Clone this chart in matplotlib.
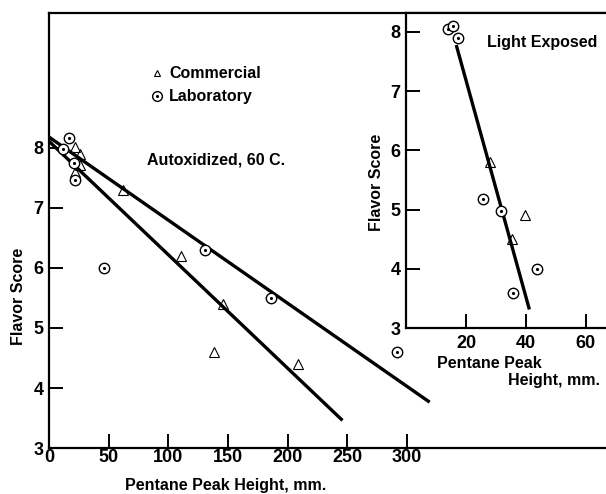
import matplotlib
matplotlib.use("Agg")
import matplotlib.pyplot as plt
from matplotlib.lines import Line2D
from matplotlib.legend_handler import HandlerTuple

plt.rcParams['font.family'] = ['Liberation Sans', 'DejaVu Sans']
plt.rcParams['font.weight'] = 'bold'

# autoxidized, 60 C
comm_x = [22, 26, 26, 22, 62, 111, 146, 138, 209]
comm_y = [8.02, 7.9, 7.72, 7.6, 7.3, 6.2, 5.4, 4.6, 4.4]
lab_x = [17, 12, 21, 22, 46, 131, 186, 292]
lab_y = [8.17, 7.98, 7.75, 7.47, 6.0, 6.3, 5.5, 4.6]
fit1_x = [0, 318]
fit1_y = [8.18, 3.78]
fit2_x = [0, 245]
fit2_y = [8.11, 3.48]

# light exposed
light_comm_x = [28, 35.4, 39.8]
light_comm_y = [5.8, 4.5, 4.91]
light_lab_x = [14.1, 15.8, 17.4, 25.8, 31.7, 43.8, 35.6]
light_lab_y = [8.05, 8.09, 7.89, 5.18, 4.98, 4.0, 3.59]
light_fit_x = [16.9, 41]
light_fit_y = [7.75, 3.34]

main_xticks = [0, 50, 100, 150, 200, 250, 300]
main_yticks = [3, 4, 5, 6, 7, 8]
inset_xticks = [20, 40, 60]
inset_yticks = [3, 4, 5, 6, 7, 8]

TXT = 11.5


def draw_points(ax, cx, cy, lx, ly):
	ax.plot(cx, cy, '^', ms=6.5, mfc='none', mec='black', mew=0.8, ls='none')
	ax.plot(lx, ly, 'o', ms=7.5, mfc='white', mec='black', mew=1.0, ls='none')
	ax.plot(lx, ly, '.', ms=2.5, color='black', ls='none')


def style_axes(ax):
	for s in ['left', 'bottom', 'top']:
		ax.spines[s].set_linewidth(1.6)
	ax.spines['right'].set_visible(False)
	ax.tick_params(direction='in', length=10, width=1.4, labelsize=13)
	ax.tick_params(axis='y', pad=4)


fig = plt.figure(figsize=(6.06, 4.94), dpi=100)

ax = fig.add_axes([0.081, 0.093, 0.919, 0.881])
ax.plot(fit1_x, fit1_y, '-', color='black', lw=2.4)
ax.plot(fit2_x, fit2_y, '-', color='black', lw=2.4)
draw_points(ax, comm_x, comm_y, lab_x, lab_y)
ax.set_xlim(0, 467)
ax.set_ylim(3, 10.25)
ax.set_xticks(main_xticks)
ax.set_yticks(main_yticks)
style_axes(ax)
ax.tick_params(axis='x', pad=1)

h_tri = Line2D([], [], marker='^', ms=5, mfc='none', mec='black', mew=0.8, ls='none')
h_circ = Line2D([], [], marker='o', ms=7, mfc='none', mec='black', mew=1.0, ls='none')
h_dot = Line2D([], [], marker='.', ms=2.5, color='black', ls='none')
ax.legend([h_tri, (h_circ, h_dot)], ['Commercial', 'Laboratory'],
	handler_map={tuple: HandlerTuple(ndivide=1)},
	loc='upper left', bbox_to_anchor=(0.249, 0.866), bbox_transform=fig.transFigure,
	frameon=False, fontsize=TXT, handlelength=0.8, handletextpad=0.35,
	labelspacing=0.5, borderpad=0, borderaxespad=0)

fig.text(0.243, 0.676, 'Autoxidized, 60 C.', fontsize=TXT, va='center', ha='left')
fig.text(0.373, 0.018, 'Pentane Peak Height, mm.', fontsize=TXT, ha='center', va='center')
fig.text(0.03, 0.40, 'Flavor Score', fontsize=TXT, rotation=90, ha='center', va='center')

axi = fig.add_axes([0.67, 0.336, 0.33, 0.638])
axi.set_facecolor('white')
axi.plot(light_fit_x, light_fit_y, '-', color='black', lw=2.4)
draw_points(axi, light_comm_x, light_comm_y, light_lab_x, light_lab_y)
axi.set_xlim(0, 66.7)
axi.set_ylim(3, 8.32)
axi.set_xticks(inset_xticks)
axi.set_yticks(inset_yticks)
style_axes(axi)
axi.tick_params(axis='x', pad=5)

fig.text(0.804, 0.913, 'Light Exposed', fontsize=TXT, va='center', ha='left')
fig.text(0.721, 0.265, 'Pentane Peak', fontsize=TXT, va='center', ha='left')
fig.text(0.99, 0.229, 'Height, mm.', fontsize=TXT, va='center', ha='right')
fig.text(0.622, 0.63, 'Flavor Score', fontsize=TXT, rotation=90, ha='center', va='center')

fig.savefig('out.png', dpi=100)
